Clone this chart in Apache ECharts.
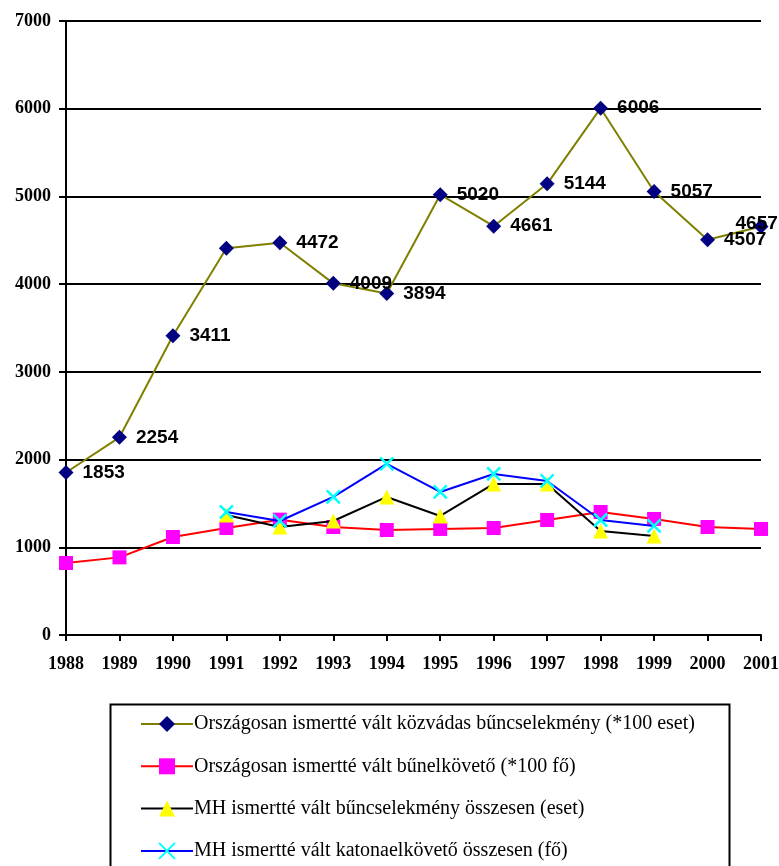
<!DOCTYPE html>
<html lang="hu">
<head>
    <meta charset="UTF-8">
    <title>Bűncselekmények 1988-2001</title>
    <style>
        body { margin: 0; background: #fff; }
        #container { width: 779px; height: 866px; }
    </style>
    <script src="https://cdn.jsdelivr.net/npm/echarts@6/dist/echarts.min.js"></script>
</head>
<body>
    <div id="container"></div>
    <script>
        // évek
        var years = ['1988', '1989', '1990', '1991', '1992', '1993', '1994', '1995', '1996', '1997', '1998', '1999', '2000', '2001'];
        // országos közvádas bűncselekmény (*100 eset)
        var orszBuncs = [1853, 2254, 3411, 4410, 4472, 4009, 3894, 5020, 4661, 5144, 6006, 5057, 4507, 4657];
        // országos bűnelkövető (*100 fő)
        var orszElkov = [821, 885, 1117, 1220, 1315, 1231, 1197, 1209, 1220, 1311, 1402, 1323, 1231, 1209];
        // MH bűncselekmény (eset)
        var mhBuncs = [null, null, null, 1368, 1231, 1300, 1574, 1357, 1722, 1722, 1186, 1129, null, null];
        // MH katonaelkövető (fő)
        var mhKatona = [null, null, null, 1403, 1300, 1574, 1950, 1631, 1836, 1756, 1311, 1243, null, null];

        var names = [
            'Országosan ismertté vált közvádas bűncselekmény (*100 eset)',
            'Országosan ismertté vált bűnelkövető (*100 fő)',
            'MH ismertté vált bűncselekmény összesen (eset)',
            'MH ismertté vált katonaelkövető összesen (fő)'
        ];

        var chart = echarts.init(document.getElementById('container'));
        var serif = '"Liberation Serif", "Times New Roman", serif';

        // a felső sorozat címkéi: 1991 nincs feliratozva, 2001 balra tolva
        var topData = orszBuncs.map(function (v, i) {
            if (i === 3) return { value: v, label: { show: false } };
            if (i === 13) return { value: v, label: { offset: [-42, -3] } };
            return v;
        });

        var option = {
            backgroundColor: '#fff',
            animation: false,
            grid: { left: 66, right: 18, top: 21, bottom: 231, outerBoundsMode: 'none' },
            graphic: [{
                type: 'rect',
                left: 108,
                top: 702,
                shape: { width: 619, height: 200 },
                style: { fill: 'none', stroke: '#000', lineWidth: 2 },
                silent: true
            }],
            legend: {
                orient: 'vertical',
                left: 140,
                top: 714,
                padding: 0,
                itemGap: 22.3,
                itemWidth: 52,
                itemHeight: 20,
                textStyle: { fontFamily: serif, fontSize: 20, color: '#000', padding: [0, 0, 0, -4] },
                data: names
            },
            xAxis: {
                type: 'category',
                data: years,
                boundaryGap: false,
                axisLine: { lineStyle: { color: '#000', width: 2 } },
                axisTick: { length: 6, lineStyle: { color: '#000', width: 2 } },
                axisLabel: { color: '#000', fontFamily: serif, fontWeight: 'bold', fontSize: 18, margin: 20 }
            },
            yAxis: {
                type: 'value',
                min: 0,
                max: 7000,
                interval: 1000,
                axisLine: { show: true, lineStyle: { color: '#000', width: 2 } },
                axisTick: { show: true, length: 7, lineStyle: { color: '#000', width: 2 } },
                splitLine: { lineStyle: { color: '#000', width: 2 } },
                axisLabel: {
                    color: '#000', fontFamily: serif, fontWeight: 'bold', fontSize: 18, margin: 15,
                    formatter: function (v) { return String(v); }
                }
            },
            series: [
                {
                    name: names[0],
                    type: 'line',
                    data: topData,
                    symbol: 'diamond',
                    symbolSize: 15,
                    itemStyle: { color: '#000080' },
                    lineStyle: { color: '#808000', width: 2 },
                    label: {
                        show: true,
                        position: 'right',
                        distance: 9,
                        color: '#000',
                        fontFamily: '"Liberation Sans", Arial, sans-serif',
                        fontWeight: 'bold',
                        fontSize: 19
                    },
                    z: 4
                },
                {
                    name: names[1],
                    type: 'line',
                    data: orszElkov,
                    symbol: 'rect',
                    symbolSize: 14,
                    itemStyle: { color: '#ff00ff' },
                    lineStyle: { color: '#ff0000', width: 2 },
                    z: 3
                },
                {
                    name: names[2],
                    type: 'line',
                    data: mhBuncs,
                    symbol: 'triangle',
                    symbolSize: 15,
                    itemStyle: { color: '#ffff00' },
                    lineStyle: { color: '#000', width: 2 },
                    z: 5
                },
                {
                    name: names[3],
                    type: 'line',
                    data: mhKatona,
                    symbol: 'path://M0,0L10,10M10,0L0,10',
                    symbolSize: 13,
                    itemStyle: { color: '#00ffff', borderColor: '#00ffff', borderWidth: 2.5 },
                    lineStyle: { color: '#0000ff', width: 2 },
                    z: 6
                }
            ]
        };

        chart.setOption(option);
    </script>
</body>
</html>
